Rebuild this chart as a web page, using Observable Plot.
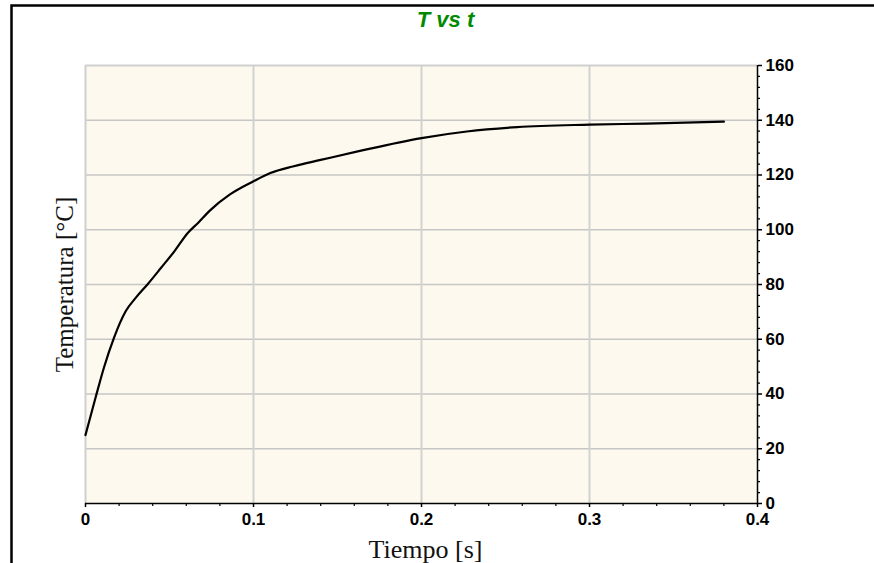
<!DOCTYPE html>
<html>
<head>
<meta charset="utf-8">
<script src="https://cdn.jsdelivr.net/npm/d3@7"></script>
<script src="https://cdn.jsdelivr.net/npm/@observablehq/plot@0.6"></script>
<style>
  html, body { margin: 0; padding: 0; background: white; }
  #chart { width: 874px; height: 563px; overflow: hidden; }
</style>
</head>
<body>
<div id="chart"></div>
<script>
// Time [s]
const tiempo = [0, 0.006, 0.011, 0.017, 0.024, 0.030, 0.037, 0.045, 0.053, 0.061, 0.067, 0.074, 0.086, 0.100, 0.110, 0.124, 0.140, 0.164, 0.200, 0.227, 0.257, 0.300, 0.334, 0.380];
// Temperature [°C]
const temperatura = [25, 38.7, 49.7, 60.6, 70.3, 75.2, 80.1, 86.1, 92.2, 98.9, 102.5, 107.0, 112.9, 117.7, 120.7, 123.2, 125.5, 128.9, 133.5, 135.9, 137.5, 138.4, 138.8, 139.5];

const xTicks = [0, 0.1, 0.2, 0.3, 0.4];
const xMinorTicks = [0.02, 0.04, 0.06, 0.08, 0.12, 0.14, 0.16, 0.18, 0.22, 0.24, 0.26, 0.28, 0.32, 0.34, 0.36, 0.38];
const yTicks = [0, 20, 40, 60, 80, 100, 120, 140, 160];
const yMinorTicks = [4, 8, 12, 16, 24, 28, 32, 36, 44, 48, 52, 56, 64, 68, 72, 76, 84, 88, 92, 96, 104, 108, 112, 116, 124, 128, 132, 136, 144, 148, 152, 156];
const yGrid = [20, 40, 60, 80, 100, 120, 140];
const xGrid = [0.1, 0.2, 0.3];

const titleText = "T vs t";
const xLabel = "Tiempo [s]";
const yLabel = "Temperatura [°C]";

const data = tiempo.map((t, i) => ({t, T: temperatura[i]}));

const tickFont = {fontWeight: "bold", fontSize: 17, fill: "black"};
const serif = "'Liberation Serif', 'Times New Roman', serif";

const svg = Plot.plot({
  width: 874,
  height: 563,
  marginLeft: 85,
  marginRight: 117,
  marginTop: 65,
  marginBottom: 60,
  style: {fontFamily: "'Liberation Sans', Arial, sans-serif", background: "white", color: "black"},
  x: {domain: [0, 0.4], label: null},
  y: {domain: [0, 160], label: null},
  marks: [
    Plot.frame({fill: "#fdf9ee", stroke: null}),
    Plot.gridY(yGrid, {stroke: "#c6c6c6", strokeOpacity: 1, strokeWidth: 1.3}),
    Plot.gridX(xGrid, {stroke: "#d2d2d2", strokeOpacity: 1, strokeWidth: 2}),
    Plot.ruleY([160], {stroke: "#d0d0d0", strokeWidth: 2}),
    Plot.ruleX([0], {stroke: "#cfcfcf", strokeWidth: 2}),
    Plot.line(data, {x: "t", y: "T", stroke: "black", strokeWidth: 2.2, curve: "monotone-x"}),
    Plot.ruleX([0.4], {stroke: "black", strokeWidth: 1.5}),
    Plot.ruleY([0], {stroke: "black", strokeWidth: 1.5}),
    Plot.axisY(yMinorTicks, {anchor: "right", tickSize: 2, text: null, label: null, strokeWidth: 1.2}),
    Plot.axisY(yTicks, {anchor: "right", tickSize: 4, tickPadding: 4, label: null, tickFormat: d => String(d), strokeWidth: 1.5, ...tickFont}),
    Plot.axisX(xMinorTicks, {anchor: "bottom", tickSize: 3, text: null, label: null, strokeWidth: 1.2}),
    Plot.axisX(xTicks, {anchor: "bottom", tickSize: 4, tickPadding: 5, label: null, tickFormat: d => String(d), strokeWidth: 1.5, ...tickFont}),
    Plot.text([yLabel], {frameAnchor: "left", textAnchor: "middle", lineAnchor: "middle", rotate: -90, dx: -21, fontFamily: serif, fontSize: 25, fill: "#111"}),
    Plot.text([xLabel], {frameAnchor: "bottom", textAnchor: "middle", lineAnchor: "middle", dx: 4, dy: 46, fontFamily: serif, fontSize: 26, fill: "#111"}),
    Plot.text([titleText], {frameAnchor: "top", textAnchor: "middle", lineAnchor: "middle", dx: 24, dy: -46, fontSize: 22, fontWeight: "bold", fontStyle: "italic", fill: "#008a00"})
  ]
});

d3.select(svg).append("path")
  .attr("d", "M11.5,563 V5.5 H874")
  .attr("fill", "none")
  .attr("stroke", "black")
  .attr("stroke-width", 2.5);

document.getElementById("chart").appendChild(svg);
</script>
</body>
</html>
